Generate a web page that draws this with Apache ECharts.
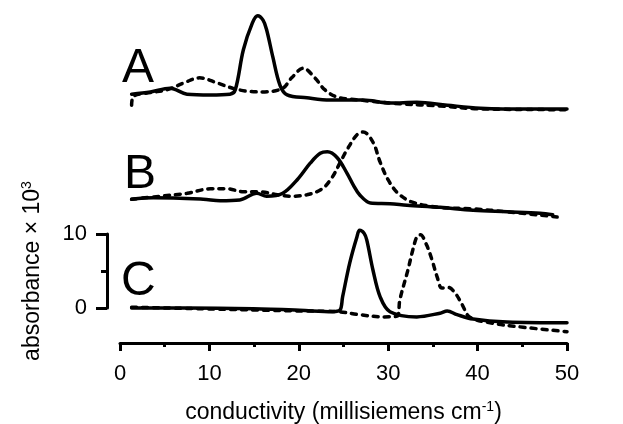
<!DOCTYPE html>
<html>
<head>
<meta charset="utf-8">
<script src="https://cdn.jsdelivr.net/npm/echarts@6/dist/echarts.min.js"></script>
<style>
  html, body { margin: 0; padding: 0; background: #fff; }
  #chart { width: 623px; height: 424px; }
</style>
</head>
<body>
<div id="chart"></div>
<script>
(function() {
  'use strict';

  var ink = '#000';
  var font = '"Liberation Sans", Arial, Helvetica, sans-serif';

  // traces: [conductivity, absorbance x10^3 incl. panel offset]
  var aSolid = [[1.3,28.9],[3.4,29.2],[5.6,29.7],[7.5,28.9],[10.1,28.8],[12.3,28.9],[12.9,29.5],[13.8,34.9],[14.8,38.5],[15.4,39.5],[16.0,38.9],[16.4,37.6],[17.1,33.9],[17.9,30.1],[18.7,28.8],[20.9,28.4],[23.5,28.1],[27.2,28.1],[30.2,27.7],[33.2,27.8],[36.6,27.4],[40.3,27.0],[42.8,26.9],[50.0,26.9]];
  var aDashed = [[1.3,27.4],[1.5,28.6],[3.4,29.1],[5.3,29.5],[7.3,30.5],[8.9,31.1],[10.9,30.4],[12.6,29.7],[14.2,29.3],[16.2,29.2],[18.2,29.7],[19.2,31.1],[20.5,32.4],[21.8,31.1],[22.9,29.5],[24.3,28.5],[26.8,28.1],[31.3,27.6],[35.8,27.3],[40.3,26.9],[50.0,26.8]];
  var bSolid = [[1.3,14.7],[3.7,14.9],[9.3,14.7],[11.2,14.5],[13.4,14.6],[15.3,15.5],[16.4,15.1],[18.2,15.5],[19.8,17.3],[21.3,19.6],[22.4,20.9],[23.2,21.1],[24.3,20.3],[25.4,18.2],[26.1,16.6],[26.8,15.3],[28.0,14.2],[30.2,14.1],[32.1,13.9],[35.8,13.6],[39.5,13.2],[43.3,13.0],[47.0,12.8],[48.4,12.6]];
  var bDashed = [[1.3,14.7],[4.5,15.1],[7.5,15.5],[10.1,16.1],[12.0,16.1],[13.8,15.7],[15.7,15.7],[17.6,15.3],[19.0,15.1],[20.9,15.3],[22.6,16.1],[23.7,17.6],[24.6,19.6],[25.4,21.4],[26.5,23.4],[27.2,23.8],[28.3,22.4],[29.1,19.7],[30.0,17.3],[31.1,15.5],[32.7,14.3],[35.8,13.6],[39.5,13.4],[43.3,13.0],[48.9,12.3]];
  var cSolid = [[1.3,0.0],[7.5,0.0],[14.9,-0.1],[20.1,-0.3],[23.8,-0.5],[24.6,-0.3],[24.9,1.5],[25.7,6.1],[26.5,9.6],[26.8,10.5],[27.3,10.1],[27.6,9.2],[28.3,5.1],[29.1,1.5],[30.2,-0.5],[33.2,-1.2],[35.8,-0.7],[36.6,-0.4],[37.7,-0.9],[39.5,-1.5],[43.3,-1.9],[50.0,-2.0]];
  var cDashed = [[1.3,0.1],[8.9,-0.1],[20.1,-0.4],[24.3,-0.5],[26.8,-0.9],[29.4,-1.2],[31.0,-1.1],[31.3,1.1],[32.2,5.1],[32.7,7.6],[33.2,9.6],[33.6,9.9],[34.3,8.5],[34.9,6.5],[35.5,4.1],[36.0,2.7],[36.7,2.8],[37.5,2.0],[38.3,0.4],[39.1,-1.2],[41.4,-2.0],[45.1,-2.6],[50.0,-3.2]];

  var panelLabels = ['A', 'B', 'C'];
  var xTicks = [0, 10, 20, 30, 40, 50];
  var scaleTicks = [0, 10];

  var chart = echarts.init(document.getElementById('chart'));

  function trace(name, data, dashed) {
    return {
      name: name,
      type: 'line',
      data: data,
      xAxisIndex: 0,
      yAxisIndex: 0,
      smooth: 0.35,
      showSymbol: false,
      silent: true,
      lineStyle: { color: ink, width: 3.5, type: dashed ? [5, 6] : 'solid', cap: 'round' }
    };
  }

  var supStyle = { fontSize: 14, verticalAlign: 'top', padding: [0, 0, 12, 0], color: ink, fontFamily: font };
  var labelPos = [[122, 45], [124, 151], [121, 258]];

  chart.setOption({
    animation: false,
    textStyle: { fontFamily: font },
    grid: [
      { left: 120, right: 56, top: 8, bottom: 81, outerBoundsMode: 'none' },
      { left: 107, width: 1, top: 234, height: 74, outerBoundsMode: 'none' }
    ],
    xAxis: [
      {
        type: 'value', gridIndex: 0, min: 0, max: 50, interval: 10,
        axisLine: { onZero: false, lineStyle: { color: ink, width: 3 } },
        axisTick: { length: 8, lineStyle: { color: ink, width: 3 } },
        minorTick: { show: true, splitNumber: 2, length: 4, lineStyle: { color: ink, width: 3 } },
        splitLine: { show: false },
        axisLabel: {
          color: ink, fontSize: 22, margin: 20, fontFamily: font,
          formatter: function(v) { return xTicks.indexOf(v) >= 0 ? String(v) : ''; }
        },
        name: 'conductivity (millisiemens cm{sup|-1})',
        nameLocation: 'middle',
        nameGap: 57,
        nameTextStyle: { color: ink, fontSize: 23, fontFamily: font, rich: { sup: supStyle } }
      },
      { type: 'value', gridIndex: 1, min: 0, max: 1, show: false }
    ],
    yAxis: [
      { type: 'value', gridIndex: 0, min: -4.73, max: 40.54, show: false },
      {
        type: 'value', gridIndex: 1, min: 0, max: 10, interval: 10,
        axisLine: { show: true, lineStyle: { color: ink, width: 3 } },
        axisTick: { length: 11, lineStyle: { color: ink, width: 3 } },
        minorTick: { show: true, splitNumber: 2, length: 6, lineStyle: { color: ink, width: 3 } },
        splitLine: { show: false },
        axisLabel: {
          color: ink, fontSize: 22, margin: 20, fontFamily: font,
          formatter: function(v) { return scaleTicks.indexOf(v) >= 0 ? String(v) : ''; }
        },
        name: 'absorbance \u00d7 10{sup|3}',
        nameLocation: 'middle',
        nameRotate: 90,
        nameGap: 61,
        nameTextStyle: { color: ink, fontSize: 23, fontFamily: font, rich: { sup: supStyle } }
      }
    ],
    graphic: panelLabels.map(function(t, i) {
      return {
        type: 'text', left: labelPos[i][0], top: labelPos[i][1], silent: true,
        style: { text: t, fill: ink, font: '48px ' + font }
      };
    }),
    series: [
      trace('A solid', aSolid, false),
      trace('A dashed', aDashed, true),
      trace('B solid', bSolid, false),
      trace('B dashed', bDashed, true),
      trace('C solid', cSolid, false),
      trace('C dashed', cDashed, true)
    ]
  });
})();
</script>
</body>
</html>
